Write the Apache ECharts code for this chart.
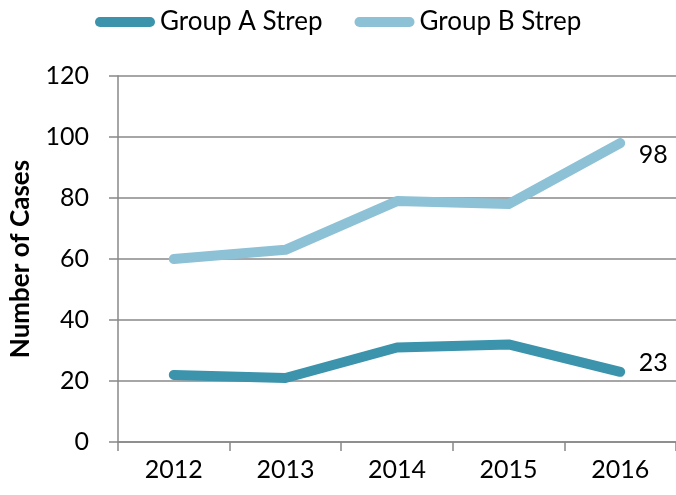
<!DOCTYPE html>
<html>
<head>
<meta charset="utf-8">
<script src="https://cdn.jsdelivr.net/npm/echarts@6/dist/echarts.min.js"></script>
<style>
  html, body { margin: 0; padding: 0; background: #fff; }
  #chart { width: 676px; height: 495px; }
</style>
</head>
<body>
<div id="chart"></div>
<script>
const years = ["2012", "2013", "2014", "2015", "2016"];
const groupA = [22, 21, 31, 32, 23];
const groupB = [60, 63, 79, 78, 98];

const FONT = "Lato";
const capsule = "path://M5,0 H55 A5,5 0 0 1 55,10 H5 A5,5 0 0 1 5,0 Z";

// only the last point carries a value label
function withEndLabel(values, offsetY) {
  return values.map((v, i) => {
    if (i !== values.length - 1) return v;
    return {
      value: v,
      label: {
        show: true,
        position: "right",
        distance: 18,
        offset: [0, offsetY],
        color: "#000",
        fontFamily: FONT,
        fontSize: 25,
      },
    };
  });
}

const chart = echarts.init(document.getElementById("chart"));
chart.setOption({
  animation: false,
  legend: {
    top: 4,
    left: 90,
    itemWidth: 60,
    itemHeight: 10,
    itemGap: 32,
    textStyle: { fontFamily: FONT, fontSize: 26, color: "#000" },
    data: [
      { name: "Group A Strep", icon: capsule },
      { name: "Group B Strep", icon: capsule },
    ],
  },
  grid: { left: 117, right: -6, top: 76, bottom: 53, containLabel: false },
  xAxis: {
    type: "category",
    data: years,
    boundaryGap: true,
    axisLine: { lineStyle: { color: "#888", width: 1.5 } },
    axisTick: { show: true, length: 9, lineStyle: { color: "#888", width: 1.5 } },
    axisLabel: { margin: 15, color: "#000", fontFamily: FONT, fontSize: 25 },
    splitLine: { show: false },
  },
  yAxis: {
    type: "value",
    min: 0,
    max: 120,
    interval: 20,
    name: "Number of Cases",
    nameLocation: "middle",
    nameGap: 84,
    nameTextStyle: { fontFamily: FONT, fontSize: 26, fontWeight: "bold", color: "#000" },
    axisLine: { show: true, lineStyle: { color: "#888", width: 1.5 } },
    axisTick: { show: true, length: 9, lineStyle: { color: "#888", width: 1.5 } },
    axisLabel: { margin: 29, color: "#000", fontFamily: FONT, fontSize: 25 },
    splitLine: { show: true, lineStyle: { color: "#888", width: 1.5 } },
  },
  series: [
    {
      name: "Group A Strep",
      type: "line",
      data: withEndLabel(groupA, -9),
      symbol: "circle",
      symbolSize: 1,
      itemStyle: { color: "#3b93ac" },
      lineStyle: { color: "#3b93ac", width: 10, cap: "round", join: "round" },
    },
    {
      name: "Group B Strep",
      type: "line",
      data: withEndLabel(groupB, 12),
      symbol: "circle",
      symbolSize: 1,
      itemStyle: { color: "#8dc1d5" },
      lineStyle: { color: "#8dc1d5", width: 10, cap: "round", join: "round" },
    },
  ],
});
</script>
</body>
</html>
